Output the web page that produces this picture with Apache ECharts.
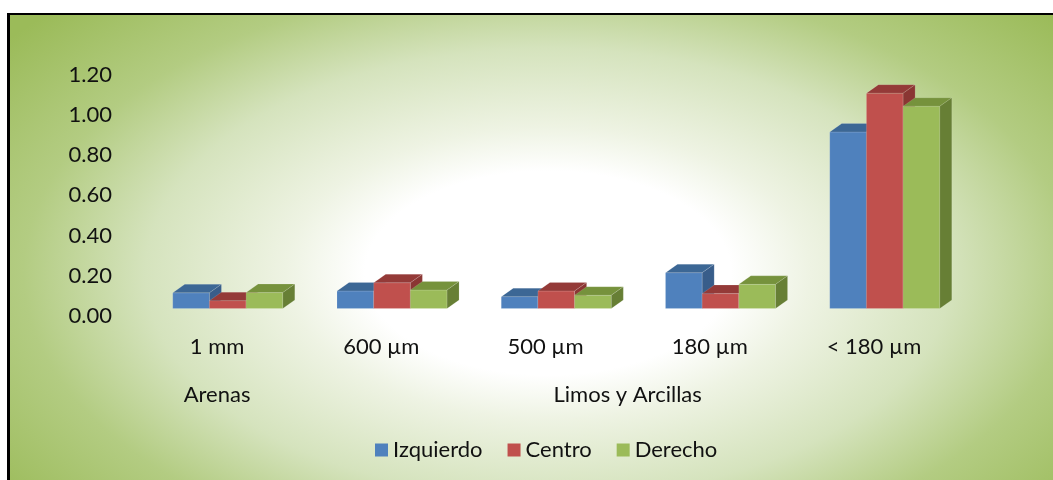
<!DOCTYPE html>
<html>
<head>
<meta charset="utf-8">
<title>Granulometría</title>
<script src="https://cdn.jsdelivr.net/npm/echarts@6.0.0/dist/echarts.min.js"></script>
<style>
  html, body { margin: 0; padding: 0; width: 1053px; height: 480px; overflow: hidden; background: #fff; }
  #frame {
    position: absolute; left: 7px; top: 13px; width: 1046px; height: 467px;
    border-left: 3px solid #000; border-top: 2px solid #000; box-sizing: border-box;
    background: radial-gradient(ellipse 610px 340px at 538px 258px,
      #ffffff 0%, #ffffff 30%, #eef3e3 43%, #d5e3bd 66%, #b3cc82 86%, #9bbb59 112%);
  }
  #chart { position: absolute; left: 0; top: 0; width: 1053px; height: 480px; }
</style>
</head>
<body>
<div id="frame"></div>
<div id="chart"></div>
<script>
// Particle-size classes on the x axis
const categories = ['1 mm', '600 µm', '500 µm', '180 µm', '< 180 µm'];
// Second-level grouping of the classes (first and last category index)
const groupNames = ['Arenas', 'Limos y Arcillas'];
const groupFrom = [0, 1];
const groupTo = [0, 4];
// Value axis ticks
const yTicks = [0, 0.2, 0.4, 0.6, 0.8, 1.0, 1.2];
// Series
const seriesNames = ['Izquierdo', 'Centro', 'Derecho'];
const izquierdo = [0.078, 0.087, 0.059, 0.178, 0.877];
const centro = [0.039, 0.128, 0.087, 0.074, 1.07];
const derecho = [0.079, 0.092, 0.066, 0.12, 1.005];

const FONT = 'Lato';
const FONT_SIZE = 22;
const TEXT_COLOR = '#111';

// Face colours for each box: front, top, right side
const palettes = [
  { front: '#4F81BD', top: '#3C6795', side: '#385D8A' },
  { front: '#C0504D', top: '#943A38', side: '#8A3633' },
  { front: '#9BBB59', top: '#76923C', side: '#677F35' }
];

// Oblique 3D look: depth offset of the box and position of the box row behind the axis plane
const DEPTH_X = 12, DEPTH_Y = 8.5;
const ROW_SHIFT_X = 10.75, ROW_SHIFT_Y = 7.5;
const CATEGORY_GAP = 0.33;

function boxRenderer(seriesIdx) {
  const pal = palettes[seriesIdx];
  return function (params, api) {
    const cat = api.value(0);
    const val = api.value(1);
    const base = api.coord([cat, 0]);
    const topPt = api.coord([cat, val]);
    const band = api.size([1, 0])[0];
    const w = band * (1 - CATEGORY_GAP) / 3;
    const x0 = base[0] + ROW_SHIFT_X + (seriesIdx - 1.5) * w;
    const x1 = x0 + w;
    const yb = base[1] - ROW_SHIFT_Y;
    const yt = topPt[1] - ROW_SHIFT_Y;
    const edge = { stroke: 'rgba(255,255,255,0.22)', lineWidth: 0.6 };
    return {
      type: 'group',
      children: [
        { type: 'rect', shape: { x: x0, y: yt, width: w, height: yb - yt },
          style: Object.assign({ fill: pal.front }, edge) },
        { type: 'polygon', shape: { points: [[x0, yt], [x1, yt], [x1 + DEPTH_X, yt - DEPTH_Y], [x0 + DEPTH_X, yt - DEPTH_Y]] },
          style: Object.assign({ fill: pal.top }, edge) },
        { type: 'polygon', shape: { points: [[x1, yt], [x1 + DEPTH_X, yt - DEPTH_Y], [x1 + DEPTH_X, yb - DEPTH_Y], [x1, yb]] },
          style: Object.assign({ fill: pal.side }, edge) }
      ]
    };
  };
}

const valueSets = [izquierdo, centro, derecho];
const boxSeries = seriesNames.map(function (name, s) {
  return {
    type: 'custom',
    name: name,
    itemStyle: { color: palettes[s].front },
    renderItem: boxRenderer(s),
    encode: { x: 0, y: 1 },
    data: valueSets[s].map(function (v, i) { return [i, v]; }),
    silent: true
  };
});

// Group captions under the category labels, centred on the span of their categories
const groupSeries = {
  type: 'custom',
  silent: true,
  renderItem: function (params, api) {
    const a = api.coord([api.value(0), 0]);
    const b = api.coord([api.value(1), 0]);
    return {
      type: 'text',
      style: {
        x: (a[0] + b[0]) / 2, y: a[1] + 79,
        text: groupNames[params.dataIndex],
        align: 'center', verticalAlign: 'middle',
        fontFamily: FONT, fontSize: FONT_SIZE, fill: TEXT_COLOR
      }
    };
  },
  encode: { x: 0, y: 2 },
  data: groupFrom.map(function (f, i) { return [f, groupTo[i], 0]; })
};

const chart = echarts.init(document.getElementById('chart'), null, { renderer: 'canvas' });
chart.setOption({
  animation: false,
  backgroundColor: 'transparent',
  textStyle: { fontFamily: FONT },
  grid: { left: 134.9, right: 96.85, top: 74.5, bottom: 164, containLabel: false, outerBoundsMode: 'none' },
  legend: {
    data: seriesNames,
    left: 370, top: 432,
    icon: 'rect', itemWidth: 13, itemHeight: 13, itemGap: 25,
    selectedMode: false,
    textStyle: { fontFamily: FONT, fontSize: FONT_SIZE, color: TEXT_COLOR, lineHeight: 26 }
  },
  xAxis: {
    type: 'category',
    data: categories,
    boundaryGap: true,
    axisLine: { show: false }, axisTick: { show: false }, splitLine: { show: false },
    axisLabel: { margin: 18, fontFamily: FONT, fontSize: FONT_SIZE, color: TEXT_COLOR, lineHeight: 26 }
  },
  yAxis: {
    type: 'value',
    min: yTicks[0], max: yTicks[yTicks.length - 1], interval: yTicks[1] - yTicks[0],
    axisLine: { show: false }, axisTick: { show: false }, splitLine: { show: false },
    axisLabel: { margin: 23, fontFamily: FONT, fontSize: FONT_SIZE, color: TEXT_COLOR,
      formatter: function (v) { return v.toFixed(2); } }
  },
  series: boxSeries.concat([groupSeries])
});
</script>
</body>
</html>
